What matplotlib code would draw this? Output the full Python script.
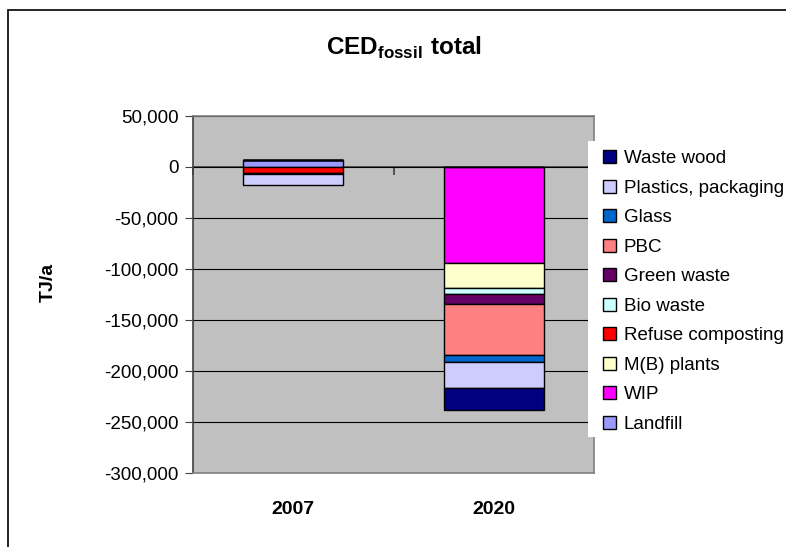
import matplotlib
matplotlib.use('Agg')
import matplotlib.pyplot as plt
import numpy as np
from matplotlib.patches import Rectangle
from matplotlib.ticker import FuncFormatter

plt.rcParams['font.family'] = ['Liberation Sans', 'DejaVu Sans']
plt.rcParams['mathtext.fontset'] = 'custom'
plt.rcParams['mathtext.rm'] = 'Liberation Sans'
plt.rcParams['mathtext.bf'] = 'Liberation Sans:bold'

# data (TJ/a), series in stacking order (first = closest to zero)
years = ['2007', '2020']
series = ['Landfill', 'WIP', 'M(B) plants', 'Refuse composting', 'Bio waste',
          'Green waste', 'PBC', 'Glass', 'Plastics, packaging', 'Waste wood']
values_2007 = [6600, 0, 0, -5600, 0, -800, 0, 0, -11000, 0]
values_2020 = [0, -94000, -25000, 0, -5200, -10200, -50300, -6300, -25200, -22400]
colors = ['#9999FF', '#FF00FF', '#FFFFCC', '#FF0000', '#CCFFFF',
          '#660066', '#FF8080', '#0066CC', '#CCCCFF', '#000080']

W, H = 786, 547
fig = plt.figure(figsize=(W / 100, H / 100), dpi=100)
ax = fig.add_axes([193 / W, 1 - 473 / H, (594 - 193) / W, (473 - 116) / H])
ax.set_facecolor('#C0C0C0')

x = np.arange(len(years))
pos_base = np.zeros(len(years))
neg_base = np.zeros(len(years))
handles = []
for name, col, v07, v20 in zip(series, colors, values_2007, values_2020):
    vals = np.array([v07, v20], dtype=float)
    base = np.where(vals >= 0, pos_base, neg_base)
    b = ax.bar(x, vals, 0.5, bottom=base, color=col, edgecolor='black',
               linewidth=1, label=name)
    pos_base += np.clip(vals, 0, None)
    neg_base += np.clip(vals, None, 0)
    handles.append(b)

ax.set_xlim(-0.5, 1.5)
ax.set_ylim(-300000, 50000)
ax.set_yticks(np.arange(-300000, 50001, 50000))
ax.yaxis.set_major_formatter(FuncFormatter(lambda v, p: f'{int(v):,}'))
ax.yaxis.grid(True, color='black', lw=0.8)
ax.set_axisbelow(True)
ax.tick_params(axis='y', direction='out', length=5.5, width=0.8, pad=5,
               labelsize=13.5, color='#404040')
ax.set_xticks(x, years, fontweight='bold', fontsize=14)
ax.tick_params(axis='x', length=0, pad=20)
for s in ['top', 'right', 'bottom']:
    ax.spines[s].set_color('#808080')
    ax.spines[s].set_linewidth(1.2)
ax.spines['left'].set_color('#404040')
ax.spines['left'].set_linewidth(1.2)

# category axis drawn at zero
y0, y1 = ax.get_ylim()
sec = ax.secondary_xaxis((0 - y0) / (y1 - y0))
sec.set_xticks([-0.5, 0.5, 1.5])
sec.set_xticklabels([])
sec.tick_params(direction='in', length=6, width=1.2, color='#404040')
for s in sec.spines.values():
    s.set_color('#404040')
    s.set_linewidth(1.2)

# legend box
fig.add_artist(Rectangle((588 / W, 1 - 437 / H), 0.5, (437 - 141) / H,
                         transform=fig.transFigure, facecolor='white',
                         edgecolor='none', zorder=2))
fig.legend(handles[::-1], series[::-1], loc='upper left',
           bbox_to_anchor=(603 / W, 1 - 150 / H), frameon=False,
           fontsize=13.5, handlelength=0.7, handleheight=0.7,
           handletextpad=0.4, labelspacing=0.66, borderpad=0,
           borderaxespad=0)

fig.text(404 / W, 1 - 55 / H, r'$\mathbf{CED}_{\mathbf{fossil}}\ \mathbf{total}$',
         ha='center', va='baseline', fontsize=17.5)
fig.text(48 / W, 1 - 282 / H, 'TJ/a', rotation=90, ha='center', va='center',
         fontsize=14, fontweight='bold')

# chart border
fig.add_artist(Rectangle((8 / W, -0.5), 2, 1.5 - 10 / H, transform=fig.transFigure,
                         fill=False, edgecolor='black', lw=1.2))

fig.savefig('out.png', dpi=100)
